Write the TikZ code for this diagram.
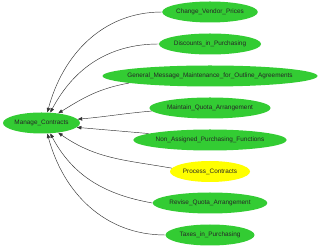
\documentclass[tikz,border=0pt]{standalone}
\usepackage{fontspec}
\setmainfont{Liberation Sans}
\usetikzlibrary{shapes.geometric,arrows.meta}
\definecolor{usecase}{HTML}{33CC33}
\definecolor{usecasey}{HTML}{FFFF00}
\definecolor{edgegray}{HTML}{333333}
\begin{document}
\begin{tikzpicture}[x=1pt,y=1pt,
    uc/.style={ellipse, fill=usecase, inner sep=0pt, minimum height=21pt,
      font=\fontsize{6.4}{7}\selectfont, text=black!85},
    link/.style={edgegray, line width=0.45pt, -{Triangle[length=4.5pt,width=3.5pt]}}]
        \useasboundingbox (0,0) rectangle (320,248);

        % Main use case
        \node[uc, minimum width=77pt] (mc) at (41.5,125) {Manage\_Contracts};

        % Included use cases
        \node[uc, minimum width=94pt] (cvp) at (210,236) {Change\_Vendor\_Prices};
        \node[uc, minimum width=102pt] (dip) at (210,204) {Discounts\_in\_Purchasing};
        \node[uc, minimum width=215pt, inner xsep=-12pt] (gmm) at (210,172) {General\_Message\_Maintenance\_for\_Outline\_Agreements};
        \node[uc, minimum width=117pt] (mqa) at (210,140) {Maintain\_Quota\_Arrangement};
        \node[uc, minimum width=146pt] (npf) at (210,108) {Non\_Assigned\_Purchasing\_Functions};
        \node[uc, minimum width=80pt, fill=usecasey] (prc) at (210,76.5) {Process\_Contracts};
        \node[uc, minimum width=113pt] (rqa) at (210,45) {Revise\_Quota\_Arrangement};
        \node[uc, minimum width=89pt] (tip) at (210,13) {Taxes\_in\_Purchasing};

        % Edges (curved, into Manage_Contracts)
        \draw[link] (cvp.west) to[out=180, in=75] (mc.61);
        \draw[link] (dip.west) to[out=180, in=62] (mc.50);
        \draw[link] (gmm.185) to[out=190, in=32] (mc.30);
        \draw[link] (mqa.183) to[out=185, in=5] (mc.6);
        \draw[link] (npf.174) to[out=175, in=-5] (mc.-7);
        \draw[link] (prc.175) to[out=170, in=-35] (mc.-30);
        \draw[link] (rqa.west) to[out=170, in=-62] (mc.-50);
        \draw[link] (tip.west) to[out=180, in=-75] (mc.-61);

    \end{tikzpicture}
\end{document}
